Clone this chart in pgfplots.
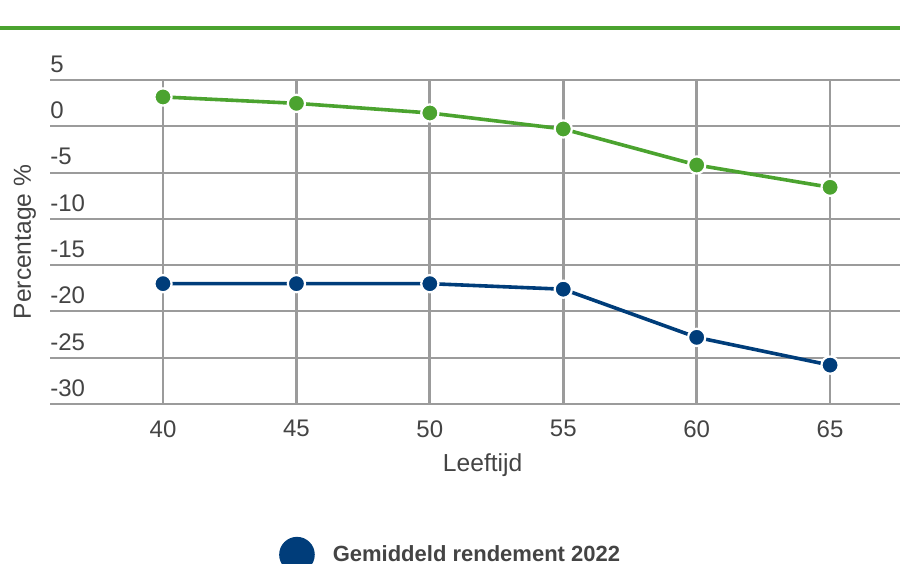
\documentclass[border=0pt]{standalone}
\usepackage{fontspec}
\setmainfont{Liberation Sans}
\usepackage{pgfplots}
\pgfplotsset{compat=1.18}
\definecolor{gr}{RGB}{75,163,47}
\definecolor{bl}{RGB}{0,61,122}
\definecolor{gridc}{RGB}{155,155,155}
\definecolor{txt}{RGB}{68,68,68}
\begin{document}
\begin{tikzpicture}[x=1pt,y=1pt]
\useasboundingbox (0,0) rectangle (450,281.5);
\draw[gr, line width=1.8pt] (0,267.5) -- (450,267.5);
\begin{axis}[
  at={(25pt,79.5pt)}, anchor=south west,
  scale only axis, width=425pt, height=162pt,
  xmin=35.765, xmax=67.62, ymin=-30, ymax=5,
  xtick={40,45,50,55,60,65}, ytick={-30,-25,-20,-15,-10,-5,0,5},
  grid=major,
  x grid style={gridc, line width=1.4pt},
  y grid style={gridc, line width=1pt},
  axis line style={draw=none},
  major tick length=0pt,
  /pgf/number format/assume math mode=true,
  tick label style={font=\fontsize{12}{14}\selectfont, text=txt},
  yticklabel style={anchor=south west, inner sep=0pt, yshift=3.5pt},
  xticklabel style={anchor=north, inner sep=0pt, yshift=-8pt},
  xlabel={Leeftijd}, ylabel={Percentage \%},
  label style={font=\fontsize{12.3}{14}\selectfont, text=txt},
  xlabel style={at={(axis description cs:0.509,-0.188)}, anchor=center},
  ylabel style={at={(axis description cs:-0.0294,0.5)}, anchor=center},
  legend style={draw=none, fill=none, at={(axis description cs:0.4725,-0.465)}, anchor=center,
    font=\fontsize{11}{13}\selectfont\bfseries, text=txt,
    /tikz/every odd column/.append style={column sep=7pt}},
  legend image code/.code={\fill[bl] (0pt,0pt) circle (8pt);},
]
\addplot[gr, line width=1.8pt, mark=*, mark size=4.3pt,
  mark options={fill=gr, draw=white, line width=1.1pt}, forget plot]
  coordinates {(40,3.17) (45,2.48) (50,1.44) (55,-0.29) (60,-4.18) (65,-6.59)};
\addplot[bl, line width=1.8pt, mark=*, mark size=4.3pt,
  mark options={fill=bl, draw=white, line width=1.1pt}]
  coordinates {(40,-17.0) (45,-17.0) (50,-17.0) (55,-17.6) (60,-22.8) (65,-25.8)};
\addlegendentry{Gemiddeld rendement 2022}
\end{axis}
\end{tikzpicture}
\end{document}
